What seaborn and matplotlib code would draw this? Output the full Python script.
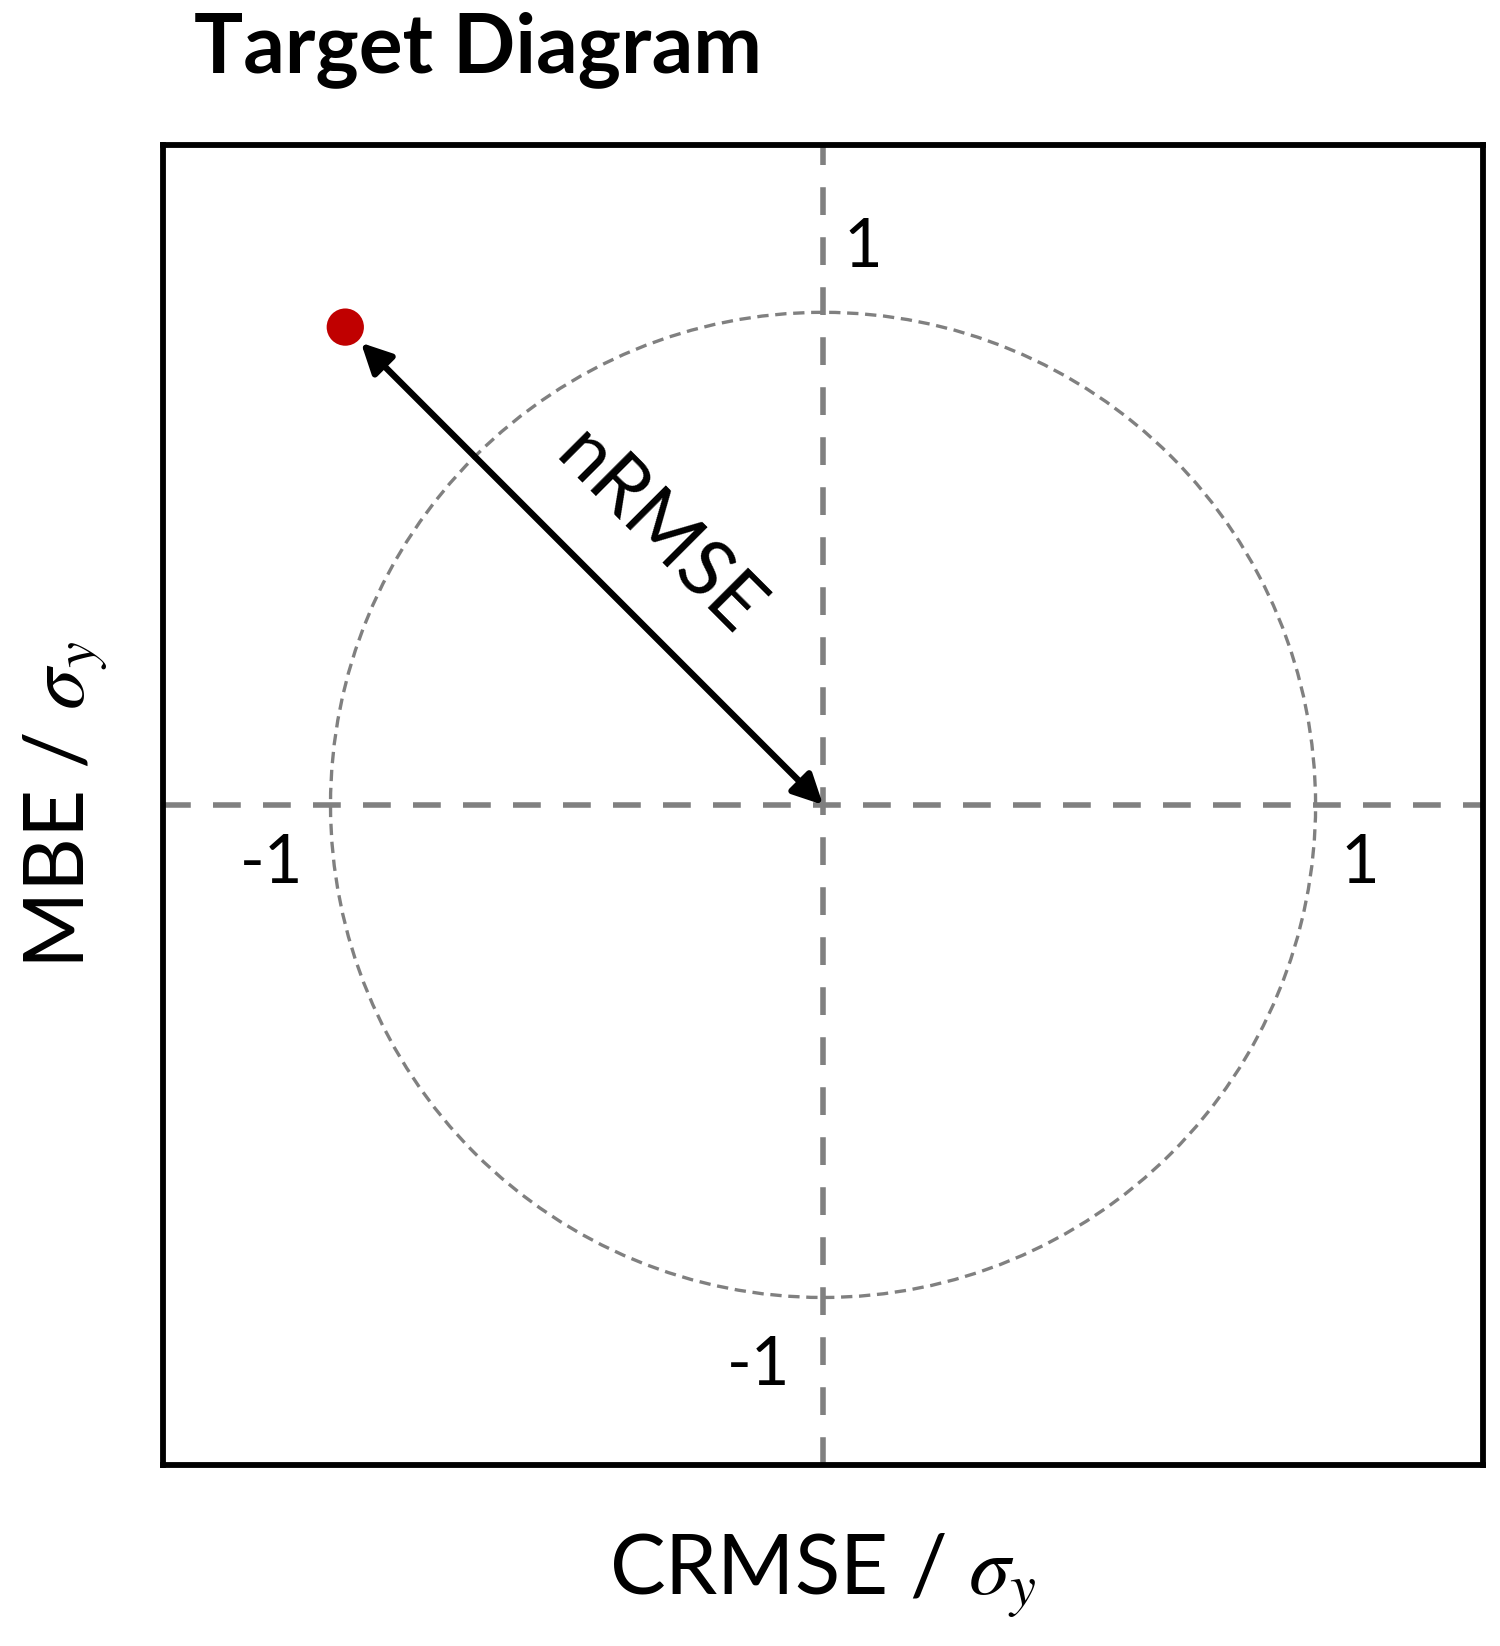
import numpy as np
import pandas as pd
import matplotlib
matplotlib.use("Agg")
import matplotlib.pyplot as plt
from matplotlib.patches import Circle
import seaborn as sns

# normalised error of the single model shown on the target
crmse_norm = [-0.97]
mbe_norm = [0.97]
model_names = ["model"]

ref_radius = 1.0
axis_limit = 1.34
axis_tick_labels = ["1", "-1", "1", "-1"]

df = pd.DataFrame({"CRMSE": crmse_norm, "MBE": mbe_norm, "Model": model_names})

sns.set_theme(style="white")
plt.rcParams["font.family"] = ["Lato", "DejaVu Sans"]
plt.rcParams["mathtext.fontset"] = "stix"
plt.rcParams["text.color"] = "black"
plt.rcParams["axes.labelcolor"] = "black"

fig = plt.figure(figsize=(15, 16.46), dpi=100)
ax = fig.add_axes([0.1087, 0.110, 0.880, 0.802])

grey = "#808080"
ax.axhline(0, color=grey, lw=4.0, dashes=(5.0, 4.0), zorder=1)
ax.axvline(0, color=grey, lw=4.0, dashes=(5.0, 4.0), zorder=1)
ax.add_patch(Circle((0, 0), ref_radius, fill=False, ec=grey, lw=2.4,
                    ls=(0, (3.4, 2.0)), zorder=1))

sns.scatterplot(data=df, x="CRMSE", y="MBE", color="#C00000", s=720,
                edgecolor="none", legend=False, ax=ax, zorder=4)

ax.annotate("", xy=(crmse_norm[0], mbe_norm[0]), xytext=(0, 0),
            arrowprops=dict(arrowstyle="<|-|>", color="black", lw=4.6,
                            mutation_scale=45, shrinkA=0, shrinkB=16),
            zorder=3)
ax.text(-0.335, 0.55, "nRMSE", rotation=-45, ha="center", va="center",
        fontsize=57, rotation_mode="anchor")

# "1" / "-1" marks on the unit circle
ax.text(0.08, 1.13, axis_tick_labels[0], ha="center", va="center", fontsize=48)
ax.text(-0.13, -1.14, axis_tick_labels[1], ha="center", va="center", fontsize=48)
ax.text(1.09, -0.12, axis_tick_labels[2], ha="center", va="center", fontsize=48)
ax.text(-1.12, -0.12, axis_tick_labels[3], ha="center", va="center", fontsize=48)

ax.set_xlim(-axis_limit, axis_limit)
ax.set_ylim(-axis_limit, axis_limit)
ax.set_xticks([])
ax.set_yticks([])
for sp in ax.spines.values():
    sp.set_visible(True)
    sp.set_color("black")
    sp.set_linewidth(4.2)

ax.set_xlabel(r"CRMSE / $\sigma_y$", fontsize=60, labelpad=48)
ax.set_ylabel(r"MBE / $\sigma_y$", fontsize=60, labelpad=38)

fig.text(0.129, 0.970, "Target Diagram", fontsize=59, fontweight="bold",
         ha="left", va="center")

fig.savefig("out.png", dpi=100)
